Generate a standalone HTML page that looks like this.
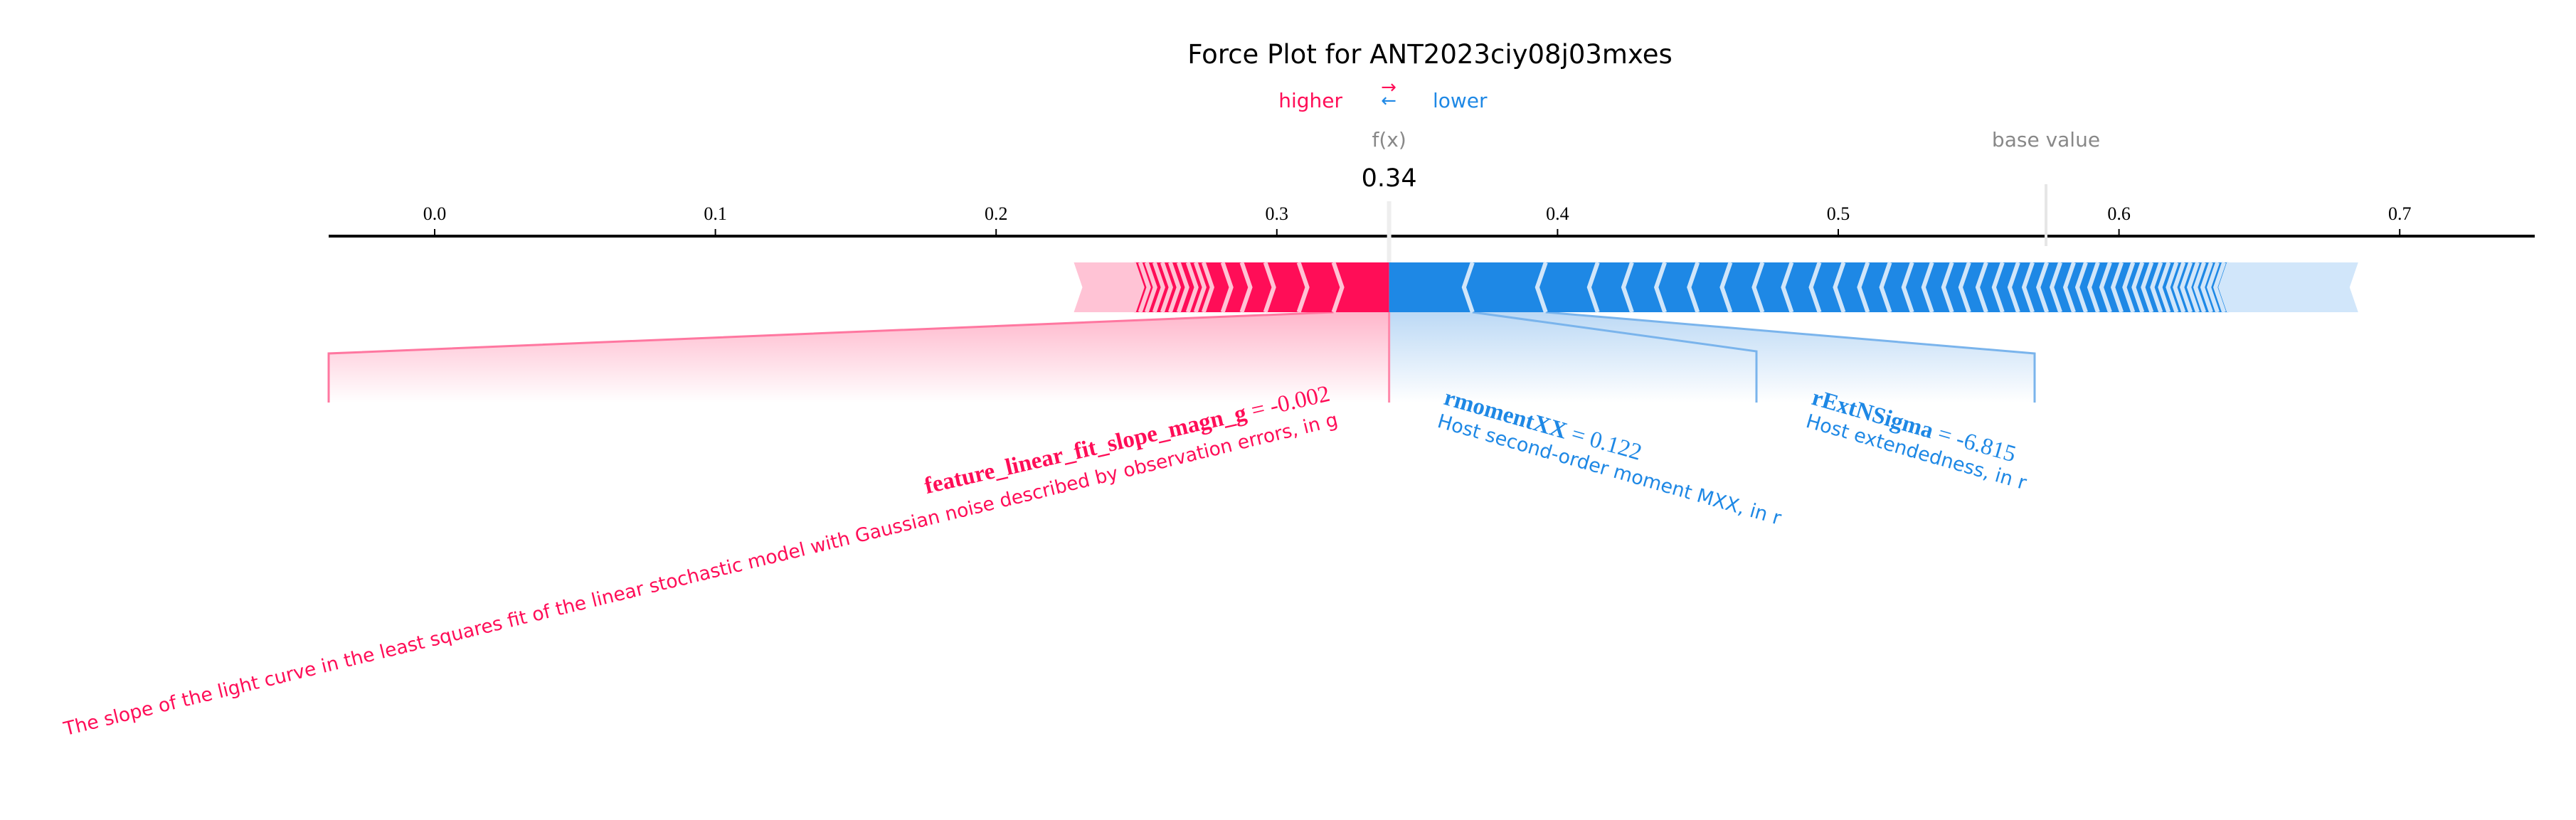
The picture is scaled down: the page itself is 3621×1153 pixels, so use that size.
<!DOCTYPE html>
<html><head><meta charset="utf-8"><style>
html,body{margin:0;padding:0;background:#fff;}
svg{display:block;}
</style></head><body>
<svg id="chart" width="3621" height="1153" viewBox="0 0 3621 1153" xmlns="http://www.w3.org/2000/svg">
<defs>
<linearGradient id="gRed" x1="0" y1="0" x2="0" y2="1"><stop offset="0" stop-color="#ffb6cb"/><stop offset="1" stop-color="#ffffff"/></linearGradient>
<linearGradient id="gBlue" x1="0" y1="0" x2="0" y2="1"><stop offset="0" stop-color="#bcd9f5"/><stop offset="1" stop-color="#ffffff"/></linearGradient>
</defs>
<text x="2010" y="89" text-anchor="middle" font-family="DejaVu Sans, Liberation Sans, sans-serif" font-size="37" fill="#000">Force Plot for ANT2023ciy08j03mxes</text>
<text x="1887" y="151" text-anchor="end" font-family="DejaVu Sans, sans-serif" font-size="28" fill="#ff0d57">higher</text>
<text x="1952" y="131" text-anchor="middle" font-family="DejaVu Sans, sans-serif" font-size="26" fill="#ff0d57">→</text>
<text x="1952" y="150" text-anchor="middle" font-family="DejaVu Sans, sans-serif" font-size="26" fill="#1e88e5">←</text>
<text x="2014" y="151" font-family="DejaVu Sans, sans-serif" font-size="28" fill="#1e88e5">lower</text>
<g id="axis"></g>
<g id="fills"></g>
<g id="bars"></g>
<g id="labels"></g>
</svg>
<script>
const ticks = [0.0, 0.1, 0.2, 0.3, 0.4, 0.5, 0.6, 0.7];
const fx = 0.34;
const baseValue = 0.574;
const redEffects = [0.0198,0.0124,0.0119,0.0084,0.0068,0.0068,0.0028,0.0028,0.0033,0.003,0.0028,0.0028,0.0028,0.0023,0.0023];
const redRest = 0.0213;
const blueEffects = [0.0297,0.0261,0.0185,0.0122,0.0117,0.0117,0.0117,0.0114,0.0104,0.0099,0.0086,0.0086,0.0079,0.0079,0.0071,0.0071,0.0061,0.0061,0.0058,0.0056,0.0051,0.0051,0.0048,0.0048,0.0043,0.0043,0.0043,0.0041,0.0041,0.0033,0.0033,0.0033,0.0028,0.0028,0.0025,0.0025,0.0025,0.0023,0.0025,0.0023,0.0023,0.0018];
const blueRest = 0.046;

const NS = 'http://www.w3.org/2000/svg';
const X0 = 611, PXU = 3946;
function xs(v){ return X0 + v*PXU; }
function mk(tag, attrs, parent){ const e=document.createElementNS(NS,tag); for(const k in attrs) e.setAttribute(k,attrs[k]); parent.appendChild(e); return e; }

const axis = document.getElementById('axis');
mk('line',{x1:462,y1:332,x2:3563,y2:332,stroke:'#000','stroke-width':4},axis);
ticks.forEach(t=>{
  const tk = mk('line',{x1:xs(t),y1:322,x2:xs(t),y2:332,stroke:'#000','stroke-width':2},axis);
  
  
  const tl = mk('text',{x:xs(t),y:309,'text-anchor':'middle','font-family':'Liberation Serif, serif','font-size':26,fill:'#000'},axis);
  tl.textContent = t.toFixed(1);
  
  
});
const fxl = mk('line',{x1:xs(fx),y1:283,x2:xs(fx),y2:440,stroke:'#eeeeee','stroke-width':6},axis);


const bl = mk('line',{x1:xs(baseValue),y1:259,x2:xs(baseValue),y2:346,stroke:'#e6e6e6','stroke-width':4},axis);


const fxt = mk('text',{x:xs(fx),y:206,'text-anchor':'middle','font-family':'DejaVu Sans, sans-serif','font-size':28,fill:'#888'},axis);
fxt.textContent='f(x)';


const fxv = mk('text',{x:xs(fx),y:262,'text-anchor':'middle','font-family':'DejaVu Sans, sans-serif','font-size':35,fill:'#000'},axis);
fxv.textContent=fx.toFixed(2);


const bvt = mk('text',{x:xs(baseValue),y:206,'text-anchor':'middle','font-family':'DejaVu Sans, sans-serif','font-size':28,fill:'#888'},axis);
bvt.textContent='base value';



const TOP=369, BOT=439, MID=404, D=12;
const bars = document.getElementById('bars');
const fills = document.getElementById('fills');

let cum = fx;
const redBounds = [];
const redAll = redEffects.concat([redRest]);
redAll.forEach((w,i)=>{
  const r = xs(cum), l = xs(cum - w);
  const rt = i===0 ? r : r + D;
  const pts = `${l},${TOP} ${r},${TOP} ${rt},${MID} ${r},${BOT} ${l},${BOT} ${l+D},${MID}`;
  const p = mk('polygon',{points:pts,fill: i===redAll.length-1 ? '#ffc3d5' : '#ff0d57'},bars);
  
  
  cum -= w;
  redBounds.push(l);
});
redBounds.slice(0,-1).forEach(b=>{
  const s = mk('polyline',{points:`${b},${TOP} ${b+D},${MID} ${b},${BOT}`,fill:'none',stroke:'#ffc3d5','stroke-width':6},bars);
  
  
});

cum = fx;
const blueBounds = [];
const blueAll = blueEffects.concat([blueRest]);
blueAll.forEach((w,i)=>{
  const l = xs(cum), r = xs(cum + w);
  const lt = i===0 ? l : l - D;
  const pts = `${l},${TOP} ${r},${TOP} ${r-D},${MID} ${r},${BOT} ${l},${BOT} ${lt},${MID}`;
  const p = mk('polygon',{points:pts,fill: i===blueAll.length-1 ? '#d1e6fa' : '#1e88e5'},bars);
  
  
  cum += w;
  blueBounds.push(r);
});
blueBounds.slice(0,-1).forEach(b=>{
  const s = mk('polyline',{points:`${b},${TOP} ${b-D},${MID} ${b},${BOT}`,fill:'none',stroke:'#d1e6fa','stroke-width':6},bars);
  
  
});

const fxX = xs(fx);
const rc = redBounds[0];
const rf = mk('polygon',{points:`${rc},${BOT} ${fxX},${BOT} ${fxX},566 462,566 462,497`,fill:'url(#gRed)'},fills);


const bc1 = blueBounds[0], bc2 = blueBounds[1];
const bf = mk('polygon',{points:`${fxX},${BOT} ${bc2},${BOT} 2860,497 2860,566 ${fxX},566`,fill:'url(#gBlue)'},fills);


const rl = mk('polyline',{points:`${rc},${BOT} 462,497 462,566`,fill:'none',stroke:'#ff77a0','stroke-width':3},fills);


const fxr = mk('line',{x1:fxX,y1:BOT,x2:fxX,y2:566,stroke:'#ff88aa','stroke-width':3},fills);


const b1 = mk('polyline',{points:`${bc1},${BOT} 2469,494 2469,566`,fill:'none',stroke:'#7ab4ec','stroke-width':3},fills);


const b2 = mk('polyline',{points:`${bc2},${BOT} 2860,497 2860,566`,fill:'none',stroke:'#7ab4ec','stroke-width':3},fills);


</script>
<svg style="position:absolute;left:0;top:0" width="3621" height="1153">
<g transform="translate(1871,563) rotate(-13)">
<text x="0" y="0" text-anchor="end" font-family="Liberation Serif, serif" font-size="33" fill="#ff0d57"><tspan font-weight="bold">feature_linear_fit_slope_magn_g</tspan> = -0.002</text>
</g>
<g transform="translate(1882,598) rotate(-13.7)">
<text x="0" y="0" text-anchor="end" font-family="DejaVu Sans, sans-serif" font-size="26.5" fill="#ff0d57">The slope of the light curve in the least squares fit of the linear stochastic model with Gaussian noise described by observation errors, in g</text>
</g>
<g transform="translate(2028,568) rotate(16)">
<text x="0" y="0" font-family="Liberation Serif, serif" font-size="33" fill="#1e88e5"><tspan font-weight="bold">rmomentXX</tspan> = 0.122</text>
</g>
<g transform="translate(2019,600) rotate(16)">
<text x="0" y="0" font-family="DejaVu Sans, sans-serif" font-size="27" fill="#1e88e5">Host second-order moment MXX, in r</text>
</g>
<g transform="translate(2545,568) rotate(16)">
<text x="0" y="0" font-family="Liberation Serif, serif" font-size="33" fill="#1e88e5"><tspan font-weight="bold">rExtNSigma</tspan> = -6.815</text>
</g>
<g transform="translate(2537,600) rotate(16)">
<text x="0" y="0" font-family="DejaVu Sans, sans-serif" font-size="27" fill="#1e88e5">Host extendedness, in r</text>
</g>
</svg>
</body></html>
